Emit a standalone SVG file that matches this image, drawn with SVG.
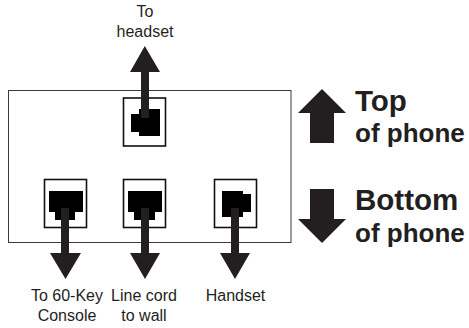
<svg xmlns="http://www.w3.org/2000/svg" width="469" height="328" viewBox="0 0 469 328">
<style>
.lab{font-family:"Liberation Sans",Arial,sans-serif;font-size:16px;fill:#231f20;text-anchor:middle}
.big{font-family:"Liberation Sans",Arial,sans-serif;font-weight:bold;fill:#231f20}
.frame{fill:#fff;stroke:#111;stroke-width:1.6}
.arr{fill:#231f20}
.jack{fill:#000}
</style>
<rect id="phone" x="8.500" y="90.500" width="282.500" height="152" fill="#fff" stroke="#3a3a3a" stroke-width="1"/>
<g id="jack-top"><rect class="frame" x="123.500" y="98" width="42" height="48"/><path class="jack" d="M139 109H160V136H139V132H131V114H139Z"/></g>
<g id="jack-console"><rect class="frame" x="44.500" y="179.500" width="42" height="48"/><path class="jack" d="M49 191H83V212H75V220H55V212H49Z"/></g>
<g id="jack-line"><rect class="frame" x="123.500" y="179.500" width="42" height="48"/><path class="jack" d="M128 191H162V212H155V220H134V212H128Z"/></g>
<g id="jack-handset"><rect class="frame" x="214.500" y="179.500" width="42" height="48"/><path class="jack" d="M222 191H243V194H251V212H243V217H222Z"/></g>
<g id="connectors">
<path class="arr" d="M141 118V72H130L144.800 46L160 72H149V118Z"/>
<path class="arr" d="M61 208V253H50L65.500 279L81 253H69V208Z"/>
<path class="arr" d="M141 208V253H130L145 279L160 253H149V208Z"/>
<path class="arr" d="M231 208V253H220L235 279L250 253H239V208Z"/>
</g>
<g id="top-of-phone"><path class="arr" d="M310 143V113H298L322 89L346 113H334V143Z"/>
<text class="big" x="355" y="111" font-size="29.500">Top</text><text class="big" x="355" y="142" font-size="26">of phone</text></g>
<g id="bottom-of-phone"><path class="arr" d="M310 189V219H298L322 243L346 219H334V189Z"/>
<text class="big" x="355" y="210" font-size="29.500">Bottom</text><text class="big" x="355" y="242" font-size="26">of phone</text></g>
<g id="labels">
<text class="lab" x="145" y="17">To</text><text class="lab" x="145" y="37">headset</text>
<text class="lab" x="67" y="301">To 60-Key</text><text class="lab" x="67" y="320.500">Console</text>
<text class="lab" x="144" y="301">Line cord</text><text class="lab" x="144" y="320.500">to wall</text>
<text class="lab" x="235.500" y="301">Handset</text>
</g>
</svg>
